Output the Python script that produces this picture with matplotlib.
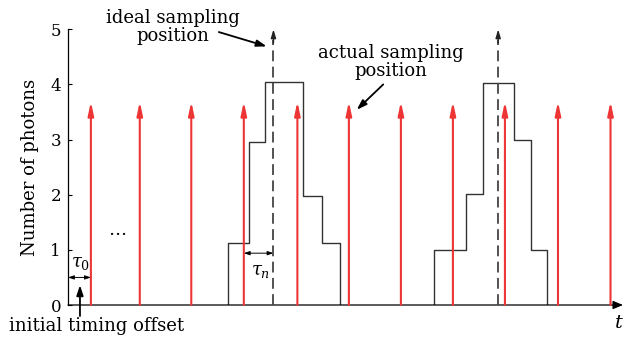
import matplotlib
matplotlib.use("Agg")
import matplotlib.pyplot as plt

plt.rcParams['font.family'] = ['DejaVu Serif']
plt.rcParams['mathtext.fontset'] = 'dejavuserif'

# ---- data (time in arbitrary units, counts in photons) ----
sample_times = [0.44, 1.38, 2.37, 3.38, 4.41, 5.40, 6.40, 7.40, 8.40, 9.42, 10.43]
sample_height = 3.69

pulse1_edges = [3.08, 3.48, 3.79, 4.51, 4.88, 5.23]
pulse1_counts = [1.12, 2.95, 4.05, 1.98, 1.12]
pulse2_edges = [7.04, 7.65, 7.97, 8.58, 8.90, 9.21]
pulse2_counts = [1.0, 2.01, 4.03, 2.99, 1.0]

ideal_times = [3.95, 8.27]
ideal_height = 5.0

yticks = [0, 1, 2, 3, 4, 5]
x_max = 10.67

W, H = 623, 338
fig = plt.figure(figsize=(W / 100, H / 100), dpi=100)
ax = fig.add_axes([68 / W, (H - 305) / H, 1 - 68 / W, (305 - 29.3) / H])
ax.set_xlim(0, x_max)
ax.set_ylim(0, 5)
ax.set_yticks(yticks)
ax.set_xticks([])
ax.tick_params(axis='y', direction='in', length=3, width=0.8, labelsize=12, pad=5)
for s in ['top', 'right', 'bottom']:
    ax.spines[s].set_visible(False)
ax.spines['left'].set_linewidth(0.9)
ax.set_ylabel('Number of photons', fontsize=13, labelpad=8)

# time axis with arrow
ax.annotate('', xy=(x_max, 0), xytext=(0, 0),
            arrowprops=dict(arrowstyle='-|>,head_length=0.6,head_width=0.25', color='black', lw=0.9,
                            shrinkA=0, shrinkB=0), annotation_clip=False)
ax.text(x_max - 0.08, -0.17, r'$t$', fontsize=14, ha='center', va='top')

# pulses (staircase)
for edges, counts in [(pulse1_edges, pulse1_counts), (pulse2_edges, pulse2_counts)]:
    xs = [edges[0]]
    ys = [0]
    for i, c in enumerate(counts):
        xs += [edges[i], edges[i + 1]]
        ys += [c, c]
    xs.append(edges[-1])
    ys.append(0)
    ax.plot(xs, ys, color='#333333', lw=1.0, zorder=2)

# actual sampling (red arrows)
for t in sample_times:
    ax.annotate('', xy=(t, sample_height), xytext=(t, 0),
                arrowprops=dict(arrowstyle='-|>,head_length=0.8,head_width=0.17', color='#ee3535', lw=1.5,
                                shrinkA=0, shrinkB=0), annotation_clip=False, zorder=3)

# ideal sampling (dashed arrows)
for t in ideal_times:
    ax.plot([t, t], [0, ideal_height - 0.2], color='#444444', lw=1.3, dashes=(6, 3), zorder=4)
    ax.annotate('', xy=(t, ideal_height), xytext=(t, ideal_height - 0.25),
                arrowprops=dict(arrowstyle='-|>,head_length=0.5,head_width=0.15', color='#222222', lw=1.0,
                                shrinkA=0, shrinkB=0), annotation_clip=False, zorder=4)

# annotations
ax.text(2.02, 5.05, 'ideal sampling\nposition', fontsize=13, ha='center', va='center', linespacing=1.0)
ax.annotate('', xy=(3.82, 4.69), xytext=(2.9, 4.95),
            arrowprops=dict(arrowstyle='-|>,head_length=0.6,head_width=0.2', color='black', lw=1.3,
                            shrinkA=0, shrinkB=0), annotation_clip=False)
ax.text(6.2, 4.40, 'actual sampling\nposition', fontsize=13, ha='center', va='center', linespacing=1.0)
ax.annotate('', xy=(5.55, 3.54), xytext=(6.06, 4.0),
            arrowprops=dict(arrowstyle='-|>,head_length=0.6,head_width=0.2', color='black', lw=1.3,
                            shrinkA=0, shrinkB=0), annotation_clip=False)

ax.text(0.94, 1.36, '…', fontsize=13, ha='center', va='center')

# tau_0
ax.annotate('', xy=(0.0, 0.5), xytext=(sample_times[0], 0.5),
            arrowprops=dict(arrowstyle='<|-|>,head_length=0.35,head_width=0.12', color='black', lw=0.7,
                            shrinkA=0, shrinkB=0))
ax.text(0.24, 0.76, r'$\tau_0$', fontsize=13, ha='center', va='center')
ax.annotate('', xy=(0.23, 0.36), xytext=(0.23, -0.2),
            arrowprops=dict(arrowstyle='-|>,head_length=0.6,head_width=0.2', color='black', lw=1.3,
                            shrinkA=0, shrinkB=0), annotation_clip=False)
ax.text(0.55, -0.38, 'initial timing offset', fontsize=13, ha='center', va='center')

# tau_n
ax.annotate('', xy=(sample_times[3], 0.94), xytext=(ideal_times[0], 0.94),
            arrowprops=dict(arrowstyle='<|-|>,head_length=0.35,head_width=0.12', color='black', lw=0.7,
                            shrinkA=0, shrinkB=0))
ax.text(3.71, 0.62, r'$\tau_n$', fontsize=13, ha='center', va='center')

fig.savefig('out.png', dpi=100)
